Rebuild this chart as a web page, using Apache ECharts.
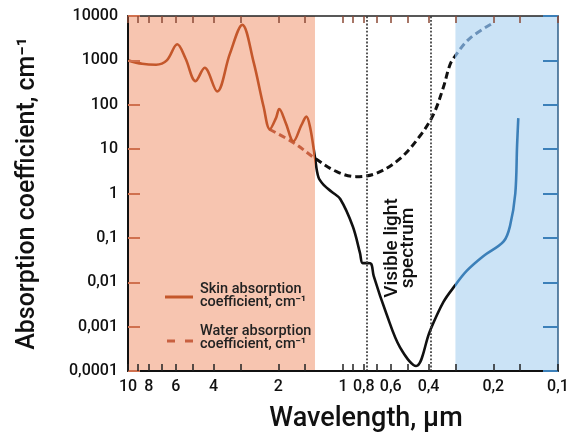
<!DOCTYPE html>
<html>
<head>
<meta charset="utf-8">
<script src="https://cdn.jsdelivr.net/npm/echarts@6/dist/echarts.min.js"></script>
<style>
  html, body { margin: 0; padding: 0; background: #fff; }
  #chart { width: 575px; height: 438px; }
</style>
</head>
<body>
<div id="chart"></div>
<script>
// wavelength axis (µm), reversed log scale
const xLabelVals = [10, 8, 6, 4, 2, 1, 0.8, 0.6, 0.4, 0.2, 0.1];
const xTickVals = [10, 9, 8, 7, 6, 5, 4, 3, 2, 1.5, 1, 0.9, 0.8, 0.7, 0.6, 0.5, 0.4, 0.3, 0.2, 0.15, 0.1];

// skin absorption coefficient, cm-1
const skinWavelength = [10, 8.6, 7.4, 6.6, 5.9, 5.4, 4.85, 4.4, 3.85, 3.36, 2.94, 2.61, 2.34, 2.19, 2.05, 1.98, 1.85, 1.7, 1.56, 1.48, 1.42, 1.35,
  1.3, 1.22, 1.13, 1.03, 0.9, 0.834, 0.81, 0.77, 0.74, 0.72, 0.627, 0.543, 0.457, 0.394, 0.341, 0.301, 0.266, 0.222, 0.179, 0.167, 0.158, 0.155, 0.153];
const skinCoef = [1000, 840, 800, 1000, 2300, 1100, 340, 680, 200, 1400, 6300, 950, 90, 28, 50, 80, 40, 15, 35, 54, 30, 6.5,
  2.3, 1.5, 1.1, 0.75, 0.18, 0.046, 0.027, 0.027, 0.026, 0.014, 0.0019, 0.00034, 0.00013, 0.0008, 0.0036, 0.0085, 0.018, 0.039, 0.083, 0.19, 1.0, 12, 50];

// water absorption coefficient, cm-1
const waterWavelength = [2.2, 1.7, 1.35, 1.07, 0.87, 0.7, 0.543, 0.438, 0.38, 0.341, 0.318, 0.301, 0.257, 0.2];
const waterCoef = [28, 14, 6.2, 3.1, 2.4, 2.85, 6.1, 20, 60, 250, 800, 1250, 3150, 7000];

// shaded bands and visible light limits, µm
const irBand = [10, 1.35];
const uvBand = [0.3, 0.1];
const visibleLimits = [0.77, 0.39];

const lg = Math.log10;
const toPoints = (xs, ys) => xs.map((x, i) => [lg(x), ys[i]]);
const fmtNum = (v) => String(parseFloat(v.toPrecision(4))).replace('.', ',');

const ORANGE = '#c4572b';
const BLUE = '#3c80b9';
const FONT = 'Roboto';

const xTickCfg = {
  type: 'value',
  inverse: true,
  min: -1,
  max: 1,
  splitLine: { show: false },
  z: 5,
};

const myChart = echarts.init(document.getElementById('chart'));
myChart.setOption({
  animation: false,
  grid: { left: 128, right: 17, top: 16, bottom: 61 },
  xAxis: [
    {
      ...xTickCfg,
      position: 'bottom',
      name: 'Wavelength, µm',
      nameLocation: 'middle',
      nameGap: 35,
      nameTextStyle: { fontFamily: FONT, fontSize: 27, fontWeight: 500, color: '#111', padding: [0, 0, 0, 46] },
      axisLine: { onZero: false, lineStyle: { color: '#111', width: 2 } },
      axisTick: { inside: true, length: 7, customValues: xTickVals.map(lg), lineStyle: { color: '#222', width: 1.5 } },
      axisLabel: {
        customValues: xLabelVals.map(lg),
        formatter: (v) => fmtNum(Math.pow(10, v)),
        margin: 8,
        fontFamily: FONT, fontSize: 16, fontWeight: 500, color: '#111',
      },
    },
    {
      ...xTickCfg,
      position: 'top',
      axisLine: { onZero: false, lineStyle: { color: '#222', width: 1.5 } },
      axisTick: { inside: true, length: 7, customValues: xTickVals.map(lg), lineStyle: { color: '#8c4a36', width: 1.5 } },
      axisLabel: { show: false },
    },
  ],
  yAxis: [
    {
      type: 'log',
      min: 0.0001,
      max: 10000,
      position: 'left',
      z: 5,
      name: 'Absorption coefficient, cm⁻¹',
      nameLocation: 'middle',
      nameGap: 88,
      nameTextStyle: { fontFamily: FONT, fontSize: 25, fontWeight: 500, color: '#111' },
      splitLine: { show: false },
      axisLine: { show: true, onZero: false, lineStyle: { color: '#111', width: 2 } },
      axisTick: { inside: true, length: 12, lineStyle: { color: '#d0714f', width: 2 } },
      axisLabel: {
        formatter: fmtNum,
        margin: 10,
        fontFamily: FONT, fontSize: 16, fontWeight: 500, color: '#111',
      },
    },
    {
      type: 'log',
      min: 0.0001,
      max: 10000,
      position: 'right',
      z: 5,
      splitLine: { show: false },
      axisLine: { show: true, onZero: false, lineStyle: { color: '#2f5f88', width: 1.5 } },
      axisTick: { inside: true, length: 15, lineStyle: { color: BLUE, width: 2 } },
      axisLabel: { show: false },
    },
  ],
  visualMap: [
    {
      show: false, type: 'piecewise', seriesIndex: 1, dimension: 0,
      pieces: [
        { lt: lg(uvBand[0]), color: BLUE },
        { gte: lg(uvBand[0]), lt: lg(irBand[1]), color: '#111' },
        { gte: lg(irBand[1]), color: ORANGE },
      ],
    },
    {
      show: false, type: 'piecewise', seriesIndex: 2, dimension: 0,
      pieces: [
        { lt: lg(uvBand[0]), color: '#6b92ba' },
        { gte: lg(uvBand[0]), lt: lg(irBand[1]), color: '#111' },
        { gte: lg(irBand[1]), color: '#c86040' },
      ],
    },
  ],
  series: [
    {
      name: 'bands',
      type: 'line',
      data: [],
      silent: true,
      markArea: {
        silent: true,
        data: [
          [{ xAxis: lg(irBand[0]), itemStyle: { color: '#f7c5b0' } }, { xAxis: lg(irBand[1]) }],
          [{ xAxis: lg(uvBand[0]), itemStyle: { color: '#cbe3f6' } }, { xAxis: lg(uvBand[1]) }],
        ],
      },
      markLine: {
        silent: true,
        symbol: 'none',
        label: { show: false },
        lineStyle: { type: 'dotted', color: '#444', width: 1.8 },
        data: visibleLimits.map((v) => ({ xAxis: lg(v) })),
      },
    },
    {
      name: 'Skin absorption coefficient, cm⁻¹',
      type: 'line',
      data: toPoints(skinWavelength, skinCoef),
      symbol: 'none',
      smooth: 0.35,
      lineStyle: { width: 2.6 },
      z: 3,
    },
    {
      name: 'Water absorption coefficient, cm⁻¹',
      type: 'line',
      data: toPoints(waterWavelength, waterCoef),
      symbol: 'none',
      smooth: 0.35,
      lineStyle: { width: 3, type: [7, 4] },
      z: 2,
    },
  ],
  graphic: [
    {
      type: 'text', x: 400, y: 248, rotation: Math.PI / 2, z: 10,
      style: {
        text: 'Visible light\nspectrum', align: 'center', verticalAlign: 'middle',
        fontFamily: FONT, fontSize: 19, fontWeight: 500, lineHeight: 16, fill: '#111',
      },
    },
    { type: 'line', z: 10, shape: { x1: 165, y1: 297, x2: 193, y2: 297 }, style: { stroke: ORANGE, lineWidth: 3 } },
    { type: 'line', z: 10, shape: { x1: 167, y1: 341, x2: 193, y2: 341 }, style: { stroke: '#c86040', lineWidth: 3, lineDash: [8, 10] } },
    {
      type: 'text', x: 200, y: 296, z: 10,
      style: { text: 'Skin absorption\ncoefficient, cm⁻¹', verticalAlign: 'middle', fontFamily: FONT, fontSize: 14.5, fontWeight: 500, lineHeight: 12.5, fill: '#222' },
    },
    {
      type: 'text', x: 200, y: 338, z: 10,
      style: { text: 'Water absorption\ncoefficient, cm⁻¹', verticalAlign: 'middle', fontFamily: FONT, fontSize: 14.5, fontWeight: 500, lineHeight: 12.5, fill: '#222' },
    },
  ],
});
</script>
</body>
</html>
